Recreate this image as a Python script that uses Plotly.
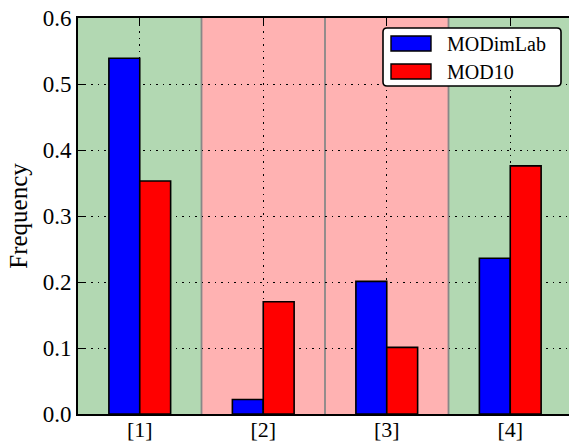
import plotly.graph_objects as go

categories = ["[1]", "[2]", "[3]", "[4]"]
positions = [1, 2, 3, 4]
modimlab = [0.539, 0.022, 0.201, 0.236]
mod10 = [0.353, 0.170, 0.101, 0.376]
band_colors = ["#b2d8b2", "#ffb2b2", "#ffb2b2", "#b2d8b2"]
y_ticks = [0.0, 0.1, 0.2, 0.3, 0.4, 0.5, 0.6]

W, H = 569, 445
L, R, T, B = 78, 0, 18, 31
FONT = "Liberation Serif, Times New Roman, serif"

def px(x):
    return (x - L) / (W - L - R)

def py(y):
    return 1 - (y - T) / (H - T - B)

fig = go.Figure()
fig.add_trace(go.Bar(x=positions, y=modimlab, name="MODimLab",
                     marker=dict(color="#0000ff", line=dict(color="black", width=1.6)),
                     offset=-0.25, width=0.25))
fig.add_trace(go.Bar(x=positions, y=mod10, name="MOD10",
                     marker=dict(color="#ff0000", line=dict(color="black", width=1.6)),
                     offset=0.0, width=0.25))

shapes = []
for p, c in zip(positions, band_colors):
    shapes.append(dict(type="rect", xref="x", yref="paper", x0=p - 0.5, x1=p + 0.5,
                       y0=0, y1=1, fillcolor=c, line=dict(width=0), layer="below"))
for p in positions[:-1]:
    shapes.append(dict(type="line", xref="x", yref="paper", x0=p + 0.5, x1=p + 0.5,
                       y0=0, y1=1, line=dict(color="#888888", width=1.8), layer="below"))

# legend box (rounded)
bx0, bx1, by0, by1 = 383, 561, 28, 86
rad = 4
path = (f"M {bx0+rad},{by0} L {bx1-rad},{by0} Q {bx1},{by0} {bx1},{by0+rad} "
        f"L {bx1},{by1-rad} Q {bx1},{by1} {bx1-rad},{by1} L {bx0+rad},{by1} "
        f"Q {bx0},{by1} {bx0},{by1-rad} L {bx0},{by0+rad} Q {bx0},{by0} {bx0+rad},{by0} Z")

def conv_path(p):
    out = []
    for t in p.split():
        if "," in t:
            a, b = t.split(",")
            out.append(f"{px(float(a)):.5f},{py(float(b)):.5f}")
        else:
            out.append(t)
    return " ".join(out)

shapes.append(dict(type="path", xref="paper", yref="paper", path=conv_path(path),
                   fillcolor="white", line=dict(color="black", width=1.6), layer="above"))
legend_rows = [("MODimLab", "#0000ff", 36, 51), ("MOD10", "#ff0000", 64, 79)]
annotations = []
for name, col, ya, yb in legend_rows:
    shapes.append(dict(type="rect", xref="paper", yref="paper", x0=px(391), x1=px(431),
                       y0=py(yb), y1=py(ya), fillcolor=col,
                       line=dict(color="black", width=1.4), layer="above"))
    annotations.append(dict(xref="paper", yref="paper", x=px(445), y=py((ya + yb) / 2),
                            text=name, showarrow=False, xanchor="left", yanchor="middle",
                            font=dict(family=FONT, size=20, color="black")))

DOT = "1.5px,5px"
fig.update_layout(
    width=W, height=H,
    margin=dict(l=L, r=R, t=T, b=B, pad=0, autoexpand=False),
    paper_bgcolor="white", plot_bgcolor="white",
    showlegend=False,
    barmode="overlay",
    shapes=shapes, annotations=annotations,
    font=dict(family=FONT, size=22, color="black"),
    xaxis=dict(range=[0.5, 0.5 + (W - L - R) / 123.5], tickvals=positions, ticktext=categories,
               ticks="inside", ticklen=8, tickcolor="black", tickwidth=1,
               showline=True, linecolor="black", linewidth=2, mirror="ticks",
               showgrid=True, gridcolor="black", gridwidth=1, griddash=DOT,
               zeroline=False, tickfont=dict(family=FONT, size=22), automargin=False,
               ticklabelstandoff=-5),
    yaxis=dict(range=[0, 0.6], tickvals=y_ticks, tickformat=".1f",
               ticks="inside", ticklen=8, tickcolor="black", tickwidth=1,
               showline=True, linecolor="black", linewidth=2,
               showgrid=True, gridcolor="black", gridwidth=1, griddash=DOT,
               zeroline=False, tickfont=dict(family=FONT, size=23), automargin=False,
               title=dict(text="Frequency", font=dict(family=FONT, size=25), standoff=8)),
)

fig.write_html("out.html", config={"displayModeBar": False},
               post_script="document.body.style.margin='0px';")
